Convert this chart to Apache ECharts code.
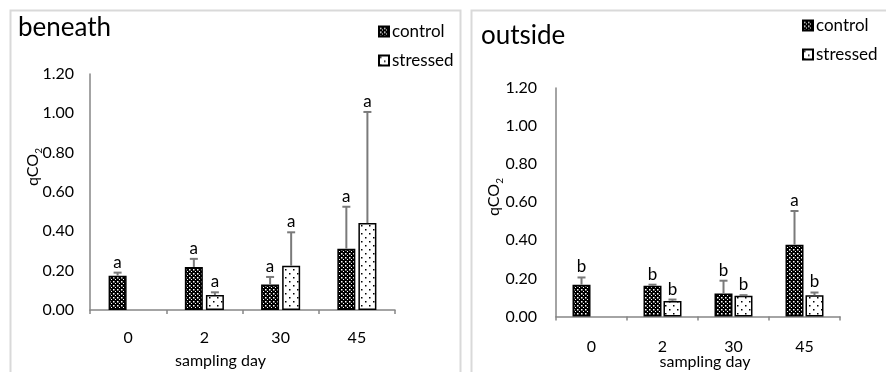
<!DOCTYPE html>
<html>
<head>
<meta charset="utf-8">
<script src="https://cdn.jsdelivr.net/npm/echarts@6/dist/echarts.min.js"></script>
<style>
html, body { margin: 0; padding: 0; background: #fff; }
#chart { width: 886px; height: 372px; }
</style>
</head>
<body>
<div id="chart"></div>
<script>
// sampling days
const days = ['0', '2', '30', '45']

// beneath: means, SD (upper error), significance letters
const beneathControl = [0.174, 0.219, 0.130, 0.312]
const beneathControlSd = [0.016, 0.041, 0.038, 0.213]
const beneathControlLetters = ['a', 'a', 'a', 'a']
const beneathStressed = [null, 0.076, 0.225, 0.442]
const beneathStressedSd = [null, 0.014, 0.170, 0.565]
const beneathStressedLetters = ['', 'a', 'a', 'a']

// outside
const outsideControl = [0.167, 0.161, 0.121, 0.377]
const outsideControlSd = [0.038, 0.006, 0.067, 0.177]
const outsideControlLetters = ['b', 'b', 'b', 'a']
const outsideStressed = [null, 0.082, 0.109, 0.112]
const outsideStressedSd = [null, 0.007, 0.003, 0.014]
const outsideStressedLetters = ['', 'b', 'b', 'b']

const yTicks = [0, 0.2, 0.4, 0.6, 0.8, 1.0, 1.2]

const FONT = 'Lato'

function makePattern(bg, fg, size, dots, dot) {
  let c = document.createElement('canvas')
  c.width = size
  c.height = size
  let ctx = c.getContext('2d')
  ctx.fillStyle = bg
  ctx.fillRect(0, 0, size, size)
  ctx.fillStyle = fg
  dots.forEach(d => ctx.fillRect(d[0], d[1], dot, dot))
  return { image: c, repeat: 'repeat' }
}

const controlFill = makePattern('#000', '#fff', 4, [[1, 1], [3, 3]], 1.5)
const stressedFill = makePattern('#fff', '#000', 8, [[1, 1], [5, 5]], 1.5)

function barSeries(name, idx, data, fill, gap) {
  return {
    name: name,
    type: 'bar',
    xAxisIndex: idx,
    yAxisIndex: idx,
    data: data,
    barWidth: 18,
    barGap: gap,
    itemStyle: { color: fill, borderColor: '#000', borderWidth: 1.5 }
  }
}

function errSeries(idx, means, sds, letters, k, gap) {
  return {
    type: 'custom',
    xAxisIndex: idx,
    yAxisIndex: idx,
    z: 5,
    silent: true,
    data: means.map((m, i) => [i, m == null ? 0 : m, m == null ? 0 : m + sds[i]]),
    renderItem(params, api) {
      if (means[params.dataIndex] == null) return
      let layout = api.barLayout({ barWidth: 18, barGap: gap, count: 2 })
      let base = api.coord([api.value(0), api.value(1)])
      let top = api.coord([api.value(0), api.value(2)])
      let x = base[0] + layout[k].offsetCenter
      let line = { stroke: '#7a7a7a', lineWidth: 2 }
      return {
        type: 'group',
        children: [
          { type: 'line', shape: { x1: x, y1: base[1], x2: x, y2: top[1] }, style: line },
          { type: 'line', shape: { x1: x - 4, y1: top[1], x2: x + 4, y2: top[1] }, style: line },
          {
            type: 'text',
            style: {
              text: letters[params.dataIndex], x: x, y: top[1] - 2,
              align: 'center', verticalAlign: 'bottom',
              font: '17px ' + FONT, fill: '#000'
            }
          }
        ]
      }
    }
  }
}

function xAxis(idx, margin, nameGap, namePad) {
  return {
    type: 'category',
    gridIndex: idx,
    data: days,
    name: 'sampling day',
    nameLocation: 'middle',
    nameGap: nameGap,
    nameMoveOverlap: false,
    nameTextStyle: { fontSize: 16, color: '#000', fontFamily: FONT, padding: namePad },
    axisLine: { lineStyle: { color: '#868686', width: 1.5 } },
    axisTick: { show: true, length: 4, lineStyle: { color: '#868686', width: 1.5 } },
    axisLabel: { fontSize: 16, color: '#000', fontFamily: FONT, margin: margin }
  }
}

function yAxis(idx, margin) {
  return {
    type: 'value',
    gridIndex: idx,
    min: 0,
    max: yTicks[yTicks.length - 1],
    interval: 0.2,
    splitLine: { show: false },
    axisLine: { show: true, lineStyle: { color: '#868686', width: 1.5 } },
    axisTick: { show: false },
    axisLabel: { fontSize: 16, color: '#000', fontFamily: FONT, margin: margin, formatter: v => v.toFixed(2) }
  }
}

function yName(x, y) {
  return {
    type: 'text', x: x, y: y, rotation: Math.PI / 2, silent: true,
    style: {
      text: '{a|qCO}{b|2}', align: 'center', verticalAlign: 'middle',
      rich: {
        a: { fontSize: 16, lineHeight: 22, fontFamily: FONT, fill: '#000', verticalAlign: 'middle' },
        b: { fontSize: 10, lineHeight: 10, fontFamily: FONT, fill: '#000', verticalAlign: 'bottom' }
      }
    }
  }
}

let chart = echarts.init(document.getElementById('chart'))
let chartOpt = {
  animation: false,
  textStyle: { fontFamily: FONT },
  graphic: [
    { type: 'rect', shape: { x: 10.5, y: 10.5, width: 450, height: 380 }, style: { fill: 'none', stroke: '#d9d9d9', lineWidth: 2 }, silent: true },
    { type: 'rect', shape: { x: 471.5, y: 10.5, width: 430, height: 380 }, style: { fill: 'none', stroke: '#d9d9d9', lineWidth: 2 }, silent: true },
    yName(33, 167),
    yName(494, 197)
  ],
  title: [
    { text: 'beneath', left: 18, top: 15, padding: 0, textStyle: { fontSize: 26, fontWeight: 'normal', color: '#000', fontFamily: FONT } },
    { text: 'outside', left: 481, top: 23, padding: 0, textStyle: { fontSize: 26, fontWeight: 'normal', color: '#000', fontFamily: FONT } }
  ],
  legend: [
    {
      data: ['control', 'stressed'], orient: 'vertical', left: 378, top: 23, padding: 0,
      itemWidth: 10, itemHeight: 10, itemGap: 12, icon: 'rect',
      textStyle: { fontSize: 17, color: '#000', fontFamily: FONT, padding: [0, 0, 0, -2] }
    },
    {
      data: ['control', 'stressed'], orient: 'vertical', left: 802, top: 17, padding: 0,
      itemWidth: 10, itemHeight: 10, itemGap: 12, icon: 'rect',
      textStyle: { fontSize: 17, color: '#000', fontFamily: FONT, padding: [0, 0, 0, -2] }
    }
  ],
  grid: [
    { left: 90, top: 74, width: 305, height: 236, outerBoundsMode: 'none' },
    { left: 556, top: 88, width: 284, height: 228.5, outerBoundsMode: 'none' }
  ],
  xAxis: [xAxis(0, 20, 43, [0, 44, 0, 0]), xAxis(1, 22, 37, [0, 0, 0, 14])],
  yAxis: [yAxis(0, 16), yAxis(1, 19)],
  series: [
    barSeries('control', 0, beneathControl, controlFill, '17%'),
    barSeries('stressed', 0, beneathStressed, stressedFill, '17%'),
    errSeries(0, beneathControl, beneathControlSd, beneathControlLetters, 0, '17%'),
    errSeries(0, beneathStressed, beneathStressedSd, beneathStressedLetters, 1, '17%'),
    barSeries('control', 1, outsideControl, controlFill, '11%'),
    barSeries('stressed', 1, outsideStressed, stressedFill, '11%'),
    errSeries(1, outsideControl, outsideControlSd, outsideControlLetters, 0, '11%'),
    errSeries(1, outsideStressed, outsideStressedSd, outsideStressedLetters, 1, '11%')
  ]
}

chart.setOption(chartOpt)
</script>
</body>
</html>
